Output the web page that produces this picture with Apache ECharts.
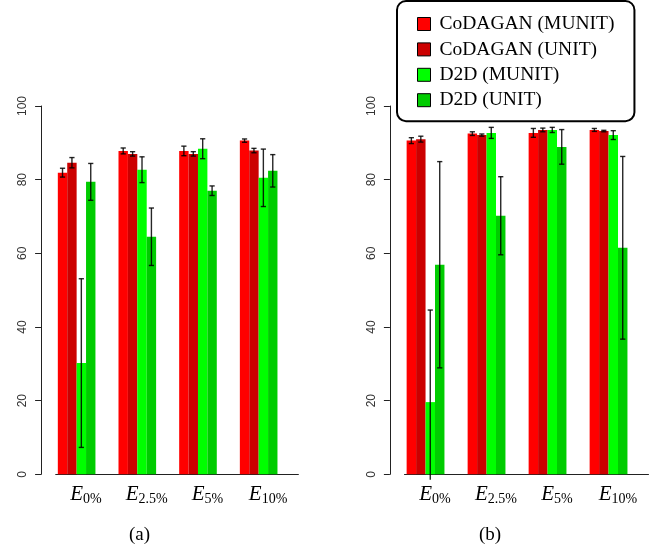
<!DOCTYPE html>
<html>
<head>
<meta charset="utf-8">
<script src="https://cdn.jsdelivr.net/npm/echarts@6/dist/echarts.min.js"></script>
<style>
  html, body { margin: 0; padding: 0; background: #fff; }
  #chart { width: 655px; height: 551px; }
</style>
</head>
<body>
<div id="chart"></div>
<script>
// subscripts of E
var subs = ['0%', '2.5%', '5%', '10%'];
var names = ['CoDAGAN (MUNIT)', 'CoDAGAN (UNIT)', 'D2D (MUNIT)', 'D2D (UNIT)'];
var colors = ['#ff0000', '#cc0000', '#00ff00', '#00cc00'];

// panel (a)
var aCoMunit = [81.9, 87.8, 87.8, 90.6];
var aCoMunitErr = [1.2, 0.8, 1.3, 0.45];
var aCoUnit = [84.6, 87.0, 87.0, 87.9];
var aCoUnitErr = [1.4, 0.6, 0.6, 0.6];
var aD2dMunit = [30.2, 82.7, 88.4, 80.5];
var aD2dMunitErr = [22.9, 3.5, 2.7, 7.8];
var aD2dUnit = [79.4, 64.5, 77.0, 82.4];
var aD2dUnitErr = [5.0, 7.8, 1.3, 4.4];

// panel (b)
var bCoMunit = [90.6, 92.5, 92.7, 93.5];
var bCoMunitErr = [0.8, 0.5, 1.2, 0.4];
var bCoUnit = [91.0, 92.1, 93.5, 93.2];
var bCoUnitErr = [0.8, 0.3, 0.5, 0.2];
var bD2dMunit = [19.6, 92.7, 93.5, 92.1];
var bD2dMunitErr = [25, 1.5, 0.7, 1.2];
var bD2dUnit = [56.9, 70.2, 88.9, 61.5];
var bD2dUnitErr = [28, 10.6, 4.7, 24.8];

var panelA = [[aCoMunit, aCoMunitErr], [aCoUnit, aCoUnitErr], [aD2dMunit, aD2dMunitErr], [aD2dUnit, aD2dUnitErr]];
var panelB = [[bCoMunit, bCoMunitErr], [bCoUnit, bCoUnitErr], [bD2dMunit, bD2dMunitErr], [bD2dUnit, bD2dUnitErr]];

var BAR_FRAC = 0.155;

function makeRender(k) {
    return function (params, api) {
        var ci = api.value(0), v = api.value(1), e = api.value(2);
        var base = api.coord([ci, 0]);
        var top = api.coord([ci, v]);
        var bw = api.size([1, 0])[0] * BAR_FRAC;
        var x0 = base[0] + (k - 3) * bw;
        var cx = x0 + bw / 2;
        var hi = api.coord([ci, v + e])[1];
        var lo = api.coord([ci, Math.max(v - e, -1.5)])[1];
        var ls = { stroke: 'rgba(0,0,0,0.85)', lineWidth: 1.4 };
        var cap = 2.6;
        var kids = [
            { type: 'rect', shape: { x: x0, y: top[1], width: bw, height: base[1] - top[1] },
              style: { fill: colors[k] } },
            { type: 'line', shape: { x1: cx, y1: hi, x2: cx, y2: lo }, style: ls },
            { type: 'line', shape: { x1: cx - cap, y1: hi, x2: cx + cap, y2: hi }, style: ls }
        ];
        if (v - e > -1.5) {
            kids.push({ type: 'line', shape: { x1: cx - cap, y1: lo, x2: cx + cap, y2: lo }, style: ls });
        }
        return { type: 'group', children: kids };
    };
}

var axisColor = '#222';
function xAxisFor(gi) {
    return {
        type: 'category', gridIndex: gi, data: subs, boundaryGap: true,
        axisLine: { lineStyle: { color: axisColor, width: 1 } },
        axisTick: { alignWithLabel: true, length: 6, lineStyle: { color: axisColor } },
        axisLabel: {
            margin: 8, interval: 0, hideOverlap: false,
            formatter: function (v) { return '{e|E}{s|' + v + '}'; },
            rich: {
                e: { fontFamily: 'Liberation Serif', fontStyle: 'italic', fontSize: 21, color: '#000' },
                s: { fontFamily: 'Liberation Serif', fontSize: 14, color: '#000', padding: [10, 0, 0, 0] }
            }
        }
    };
}
function yAxisFor(gi) {
    return {
        type: 'value', gridIndex: gi, min: 0, max: 100, interval: 20, offset: 14.6,
        splitLine: { show: false },
        axisLine: { show: true, lineStyle: { color: axisColor, width: 1 } },
        axisTick: { show: true, length: 6, lineStyle: { color: axisColor } },
        axisLabel: { rotate: 90, margin: 12, fontFamily: 'Liberation Sans', fontSize: 12, color: '#333' }
    };
}

var series = [];
[panelA, panelB].forEach(function (panel, gi) {
    panel.forEach(function (pair, k) {
        var data = pair[0].map(function (v, i) { return [i, v, pair[1][i]]; });
        series.push({
            type: 'custom', name: names[k], xAxisIndex: gi, yAxisIndex: gi,
            itemStyle: { color: colors[k] },
            renderItem: makeRender(k), data: data, clip: false, silent: true
        });
    });
});

var chart = echarts.init(document.getElementById('chart'));
chart.setOption({
    animation: false,
    backgroundColor: '#fff',
    grid: [
        { left: 55.7, width: 242.7, top: 106, bottom: 76.7 },
        { left: 404.5, width: 244, top: 106, bottom: 76.7 }
    ],
    xAxis: [xAxisFor(0), xAxisFor(1)],
    yAxis: [yAxisFor(0), yAxisFor(1)],
    legend: {
        orient: 'vertical', left: 397, top: 1,
        data: names.map(function (n, k) {
            return { name: n, icon: 'rect', itemStyle: { color: colors[k], borderColor: '#000', borderWidth: 1 } };
        }),
        itemWidth: 13, itemHeight: 13, itemGap: 5.4,
        padding: [13, 20, 11, 20],
        borderColor: '#000', borderWidth: 2, borderRadius: 9, backgroundColor: '#fff',
        textStyle: { fontFamily: 'Liberation Serif', fontSize: 19.5, color: '#000', padding: [0, 0, 0, 4] },
        selectedMode: false
    },
    graphic: [
        { type: 'text', left: 129, top: 526, style: { text: '(a)', font: '19px "Liberation Serif"', fill: '#000' } },
        { type: 'text', left: 479, top: 526, style: { text: '(b)', font: '19px "Liberation Serif"', fill: '#000' } }
    ],
    series: series
});
</script>
</body>
</html>
